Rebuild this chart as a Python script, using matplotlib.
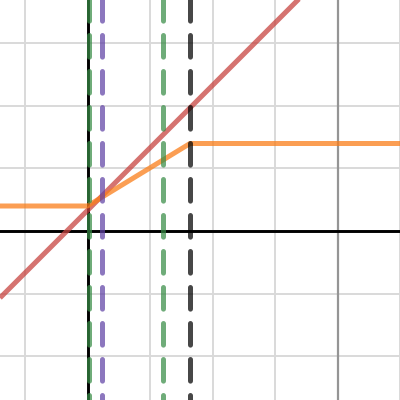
import numpy as np
import matplotlib
matplotlib.use("Agg")
import matplotlib.pyplot as plt

# view window (data units, one grid cell = 1)
x_range = [-1.4, 5.0]
y_range = [-2.704, 3.696]

# red line y = x + b
red_slope = 1.0
red_intercept = 0.33

# orange piecewise line (clamped ramp)
orange_x = [-1.4, 0.0, 1.64, 5.0]
orange_y = [0.40, 0.40, 1.40, 1.40]

# dashed vertical markers
vline_x = [0.03, 0.23, 1.21, 1.64]
vline_colors = ["#388c46", "#6042a6", "#388c46", "#000000"]

# darker vertical reference line
ref_x = 4.0

fig = plt.figure(figsize=(4, 4), dpi=100)
ax = fig.add_axes([0, 0, 1, 1])
ax.set_xlim(x_range)
ax.set_ylim(y_range)
ax.axis("off")

# grid
for gx in range(-1, 6):
    ax.axvline(gx, color="#d9d9d9", lw=1.4, zorder=0)
for gy in range(-2, 4):
    ax.axhline(gy, color="#d9d9d9", lw=1.4, zorder=0)
ax.axvline(ref_x, color="#959595", lw=1.6, zorder=1)

# axes
ax.axhline(0, color="black", lw=2.1, zorder=2)
ax.axvline(0, color="black", lw=2.1, zorder=2)

lw = 3.6
xs = np.array(x_range)
ax.plot(xs, red_slope * xs + red_intercept, color="#c74440", lw=lw,
        alpha=0.75, zorder=3, solid_capstyle="butt")
ax.plot(orange_x, orange_y, color="#fa7e19", lw=lw, alpha=0.75, zorder=3,
        solid_joinstyle="round")

for vx, c in zip(vline_x, vline_colors):
    ax.plot([vx, vx], [4.0, -3.0], color=c, lw=lw, alpha=0.72, zorder=4,
            linestyle=(0, (4.33, 2.87)), dash_capstyle="round")

fig.savefig("out.png", dpi=100)
